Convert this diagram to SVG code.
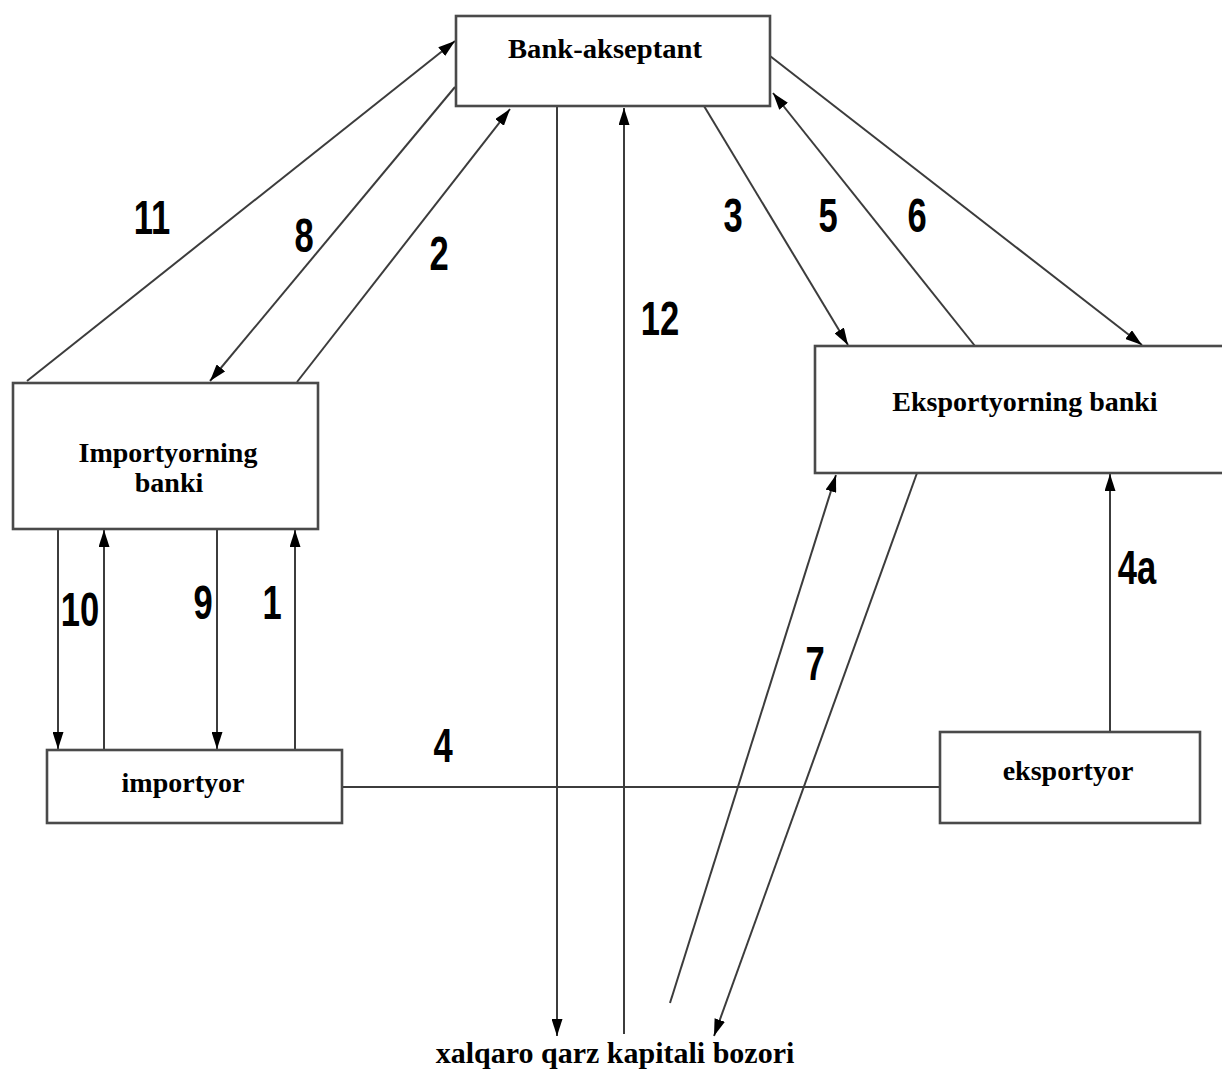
<svg xmlns="http://www.w3.org/2000/svg" width="1222" height="1073" viewBox="0 0 1222 1073">
  <defs>
    <marker id="head" markerUnits="userSpaceOnUse" markerWidth="17" markerHeight="11" refX="17" refY="5.5" orient="auto">
      <path d="M0,0 L17,5.5 L0,11 z" fill="#000"/>
    </marker>
  </defs>
  <style>
    .box { fill: #fff; stroke: #4a4a4a; stroke-width: 2.6; }
    .name { font-family: "Liberation Serif", "Times New Roman", serif; font-weight: bold; font-size: 28px; fill: #000; }
    .link { fill: none; stroke: #3c3c3c; stroke-width: 2; }
    .arrow { marker-end: url(#head); }
    .num { font-family: "Liberation Sans", Arial, sans-serif; font-weight: bold; font-size: 48px; fill: #000; }
  </style>
  <rect width="1222" height="1073" fill="#fff"/>

  <!-- connectors -->
  <g id="connectors">
    <!-- 11: importer's bank to acceptor bank -->
    <line class="link arrow" x1="27" y1="381" x2="455" y2="41"/>
    <!-- 8: acceptor bank to importer's bank -->
    <line class="link arrow" x1="455" y1="87" x2="210" y2="381"/>
    <!-- 2: importer's bank to acceptor bank -->
    <line class="link arrow" x1="297" y1="382" x2="510" y2="109"/>
    <!-- acceptor bank down to the loan capital market -->
    <line class="link arrow" x1="557" y1="106" x2="557" y2="1036"/>
    <!-- 12: market up to acceptor bank -->
    <line class="link arrow" x1="624" y1="1034" x2="624" y2="108"/>
    <!-- 3 -->
    <line class="link arrow" x1="704" y1="106" x2="848" y2="345"/>
    <!-- 5 -->
    <line class="link arrow" x1="975" y1="346" x2="773" y2="93"/>
    <!-- 6 -->
    <line class="link arrow" x1="770" y1="56" x2="1142" y2="345"/>
    <!-- market up to exporter's bank -->
    <line class="link arrow" x1="670" y1="1003" x2="836" y2="475"/>
    <!-- 7: exporter's bank down to market -->
    <line class="link arrow" x1="917" y1="473" x2="714" y2="1036"/>
    <!-- 4a: exporter to exporter's bank -->
    <line class="link arrow" x1="1110" y1="731" x2="1110" y2="474"/>
    <!-- 4: importer to exporter contract -->
    <line class="link" x1="342" y1="787" x2="940" y2="787" stroke-width="2.6"/>
    <!-- 10, 9: importer's bank down to importer -->
    <line class="link arrow" x1="58" y1="529" x2="58" y2="749"/>
    <line class="link arrow" x1="217" y1="529" x2="217" y2="749"/>
    <!-- importer up to importer's bank -->
    <line class="link arrow" x1="104" y1="749" x2="104" y2="530"/>
    <!-- 1 -->
    <line class="link arrow" x1="295" y1="749" x2="295" y2="530" stroke="#222" stroke-width="3"/>
  </g>

  <!-- step numbers -->
  <g id="numbers">
    <text class="num" transform="translate(152 234) scale(0.72 1)" text-anchor="middle">11</text>
    <text class="num" transform="translate(304 252) scale(0.72 1)" text-anchor="middle">8</text>
    <text class="num" transform="translate(439 270) scale(0.72 1)" text-anchor="middle">2</text>
    <text class="num" transform="translate(733 232) scale(0.72 1)" text-anchor="middle">3</text>
    <text class="num" transform="translate(828 232) scale(0.72 1)" text-anchor="middle">5</text>
    <text class="num" transform="translate(917 232) scale(0.72 1)" text-anchor="middle">6</text>
    <text class="num" transform="translate(660 335) scale(0.72 1)" text-anchor="middle">12</text>
    <text class="num" transform="translate(80 626) scale(0.72 1)" text-anchor="middle">10</text>
    <text class="num" transform="translate(203 619) scale(0.72 1)" text-anchor="middle">9</text>
    <text class="num" transform="translate(272 619) scale(0.72 1)" text-anchor="middle">1</text>
    <text class="num" transform="translate(443 762) scale(0.72 1)" text-anchor="middle">4</text>
    <text class="num" transform="translate(815 680) scale(0.72 1)" text-anchor="middle">7</text>
    <text class="num" transform="translate(1137 584) scale(0.72 1)" text-anchor="middle">4a</text>
  </g>

  <!-- participants -->
  <g id="bank-akseptant">
    <rect class="box" x="456" y="16" width="314" height="90"/>
    <text class="name" x="508" y="58" textLength="194" lengthAdjust="spacingAndGlyphs">Bank-akseptant</text>
  </g>
  <g id="importyorning-banki">
    <rect class="box" x="13" y="383" width="305" height="146"/>
    <text class="name" x="168" y="462" text-anchor="middle">Importyorning</text>
    <text class="name" x="169" y="492" text-anchor="middle">banki</text>
  </g>
  <g id="eksportyorning-banki">
    <rect class="box" x="815" y="346" width="420" height="127"/>
    <text class="name" x="1025" y="411" text-anchor="middle">Eksportyorning banki</text>
  </g>
  <g id="importyor">
    <rect class="box" x="47" y="750" width="295" height="73"/>
    <text class="name" x="183" y="792" text-anchor="middle">importyor</text>
  </g>
  <g id="eksportyor">
    <rect class="box" x="940" y="732" width="260" height="91"/>
    <text class="name" x="1068" y="780" text-anchor="middle">eksportyor</text>
  </g>
  <g id="xalqaro-bozor">
    <text class="name" x="615" y="1063" text-anchor="middle" font-size="30" style="font-size:30px">xalqaro qarz kapitali bozori</text>
  </g>
</svg>
